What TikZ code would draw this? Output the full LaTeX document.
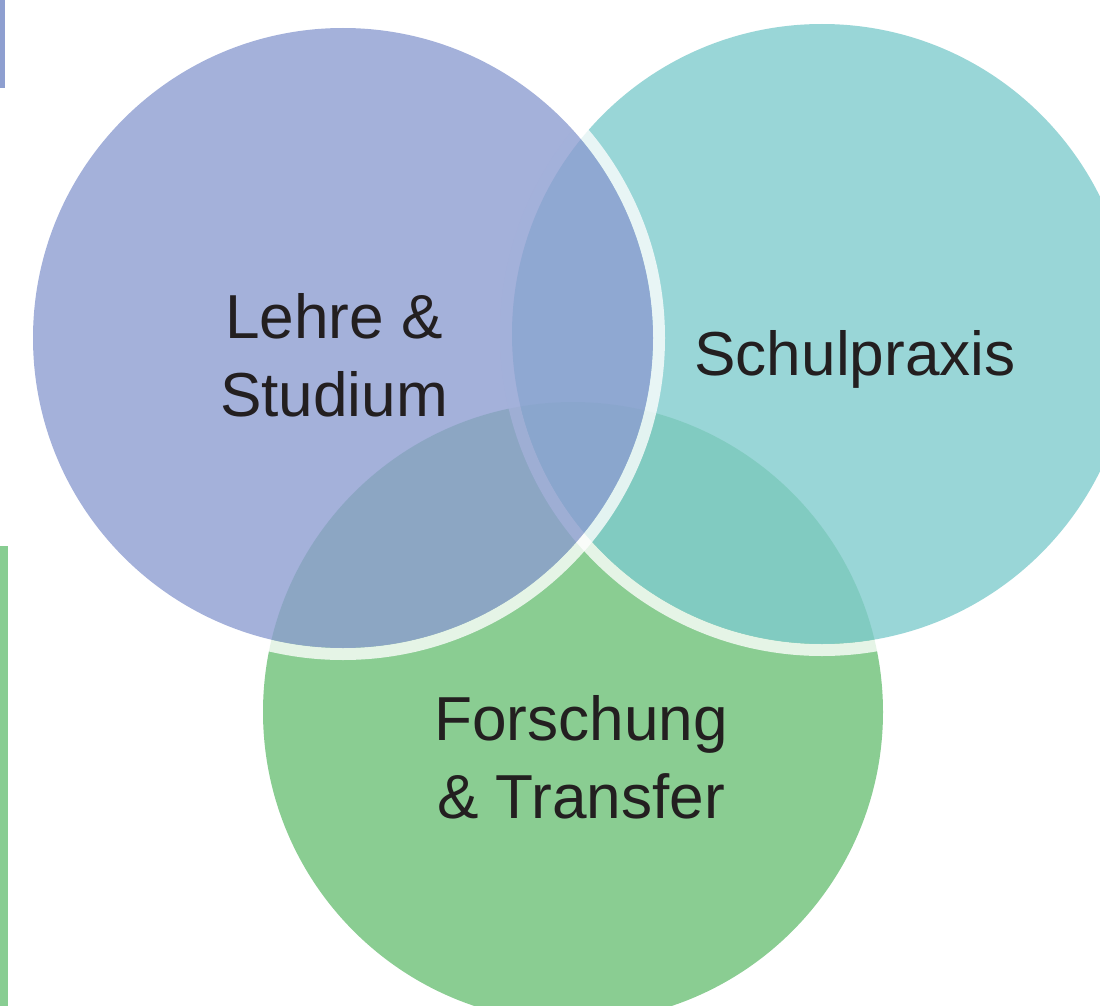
\documentclass[tikz,border=0pt]{standalone}
\usepackage{fontspec}
\setmainfont{Liberation Sans}

\definecolor{lehre}{HTML}{8D9DD1}
\definecolor{praxis}{HTML}{80CCCD}
\definecolor{forschung}{HTML}{6DC077}
\definecolor{lehrebar}{HTML}{8E9FD0}
\definecolor{forschungbar}{HTML}{88CD92}
\definecolor{textdark}{HTML}{231F20}

\tikzset{
  vennfill/.style={opacity=0.8},
  venngap/.style={white, opacity=0.78, even odd rule},
  venntext/.style={inner sep=0pt, align=center, text=textdark,
    font=\fontsize{46.6}{58.5}\selectfont},
}

\begin{document}
\begin{tikzpicture}[x=0.75pt,y=0.75pt,yscale=-1,xscale=1]
\clip (0,0) rectangle (1100,1006);
% side bars
\fill[lehrebar] (0,0) rectangle (5,88);
\fill[forschungbar] (0,546) rectangle (8,1006);

\coordinate (lehre) at (343,338);
\coordinate (praxis) at (822,334);
\coordinate (forschung) at (573,712);

% circles, bottom to top
\fill[forschung, vennfill] (forschung) circle (310);
\fill[venngap] (praxis) circle (322) (praxis) circle (310);
\fill[praxis, vennfill] (praxis) circle (310);
\fill[venngap] (lehre) circle (322) (lehre) circle (310);
\fill[lehre, vennfill] (lehre) circle (310);

% Text Node
\node[venntext, anchor=north] (lehretext) at (334,293) {Lehre \&\\Studium};
% Text Node
\node[venntext, anchor=north] (praxistext) at (855,330) {Schulpraxis};
% Text Node
\node[venntext, anchor=north] (forschungtext) at (581,695) {Forschung\\\& Transfer};
\end{tikzpicture}
\end{document}
